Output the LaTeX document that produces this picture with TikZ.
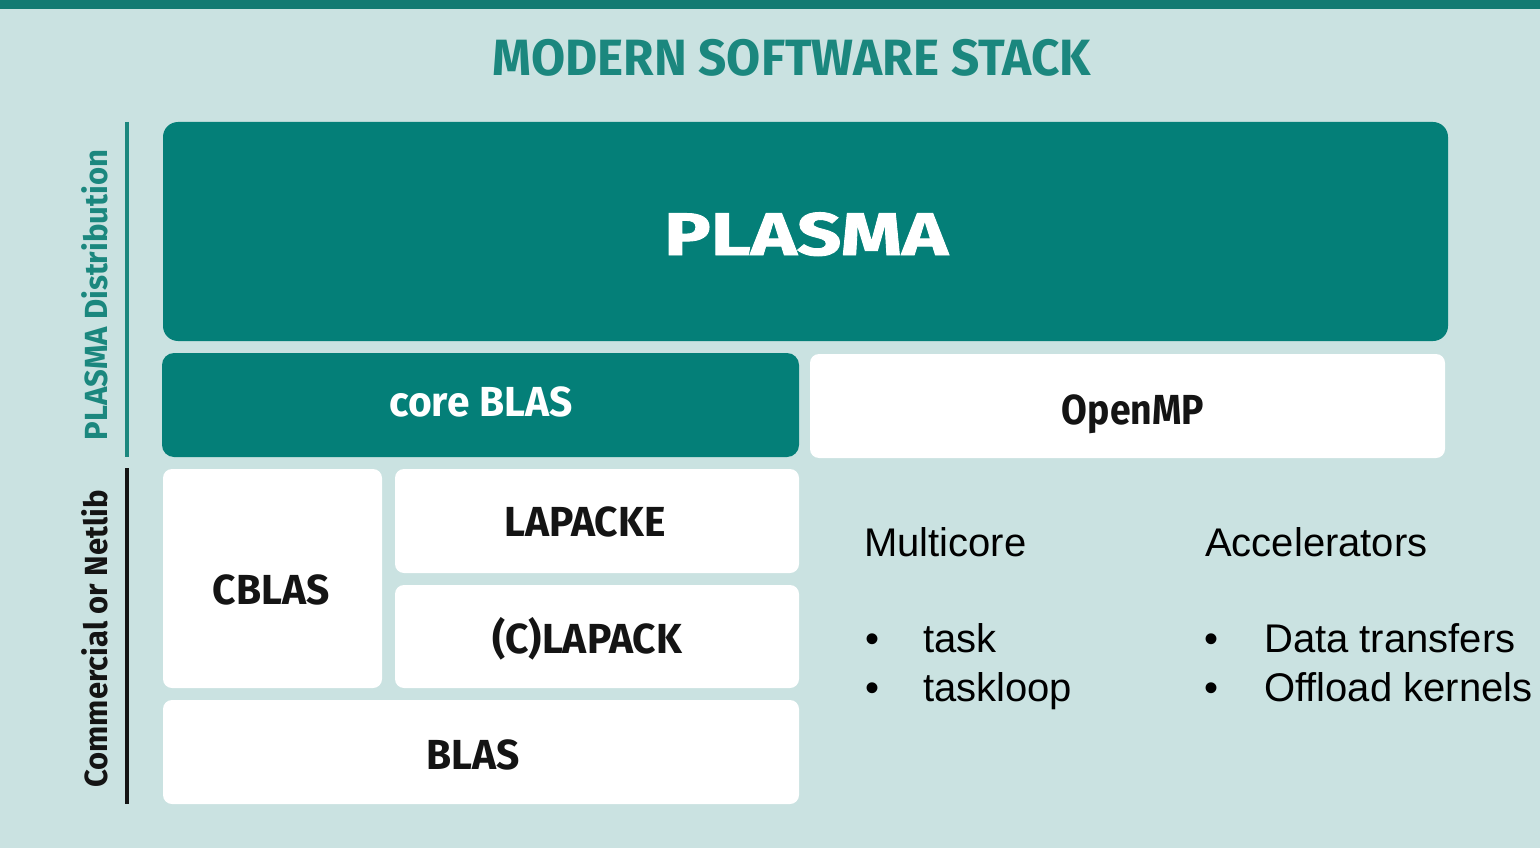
\documentclass[tikz,border=0pt]{standalone}
\usepackage{fontspec}
\usepackage{tikz}
\usetikzlibrary{positioning}
\setmainfont{Liberation Sans}
\newfontfamily\dinfont[FakeStretch=0.97]{Fira Sans}
\newfontfamily\narrowdinfont[FakeStretch=0.89]{Fira Sans}
\newfontfamily\plasmafont[FakeStretch=1.3, FakeBold=1.5]{Fira Sans}

\definecolor{bgteal}{HTML}{CAE2E1}
\definecolor{boxteal}{HTML}{047F78}
\definecolor{titleteal}{HTML}{1B877E}
\definecolor{barteal}{HTML}{137A72}
\definecolor{inkblack}{HTML}{141414}

\tikzset{
	tealbox/.style={fill=boxteal, rounded corners=15pt, inner sep=0pt},
	whitebox/.style={fill=white, rounded corners=9pt, inner sep=0pt},
	boxlabel/.style={anchor=base, inner sep=0pt,
		font=\dinfont\bfseries\fontsize{42}{42}\selectfont},
	sidelabel/.style={rotate=90, inner sep=0pt, font=\dinfont\bfseries\fontsize{32}{32}\selectfont},
	listtext/.style={anchor=base west, inner sep=0pt, text=black,
		font=\fontsize{40}{40}\selectfont}
}

\begin{document}
\begin{tikzpicture}[x=1pt, y=-1pt]
	% background and top bar
	\fill[bgteal] (0,0) rectangle (1540,848);
	\useasboundingbox (0,0) rectangle (1540,848);
	\fill[barteal] (0,0) rectangle (1540,9);

	\node[anchor=base, inner sep=0pt, text=titleteal, font=\dinfont\bfseries\fontsize{51}{51}\selectfont]
		(title) at (792,76) {MODERN SOFTWARE STACK};

	% the stack
	\node[tealbox, minimum width=1285pt, minimum height=219pt] (plasma) at (805.5,231.5) {};
	\node[tealbox, rounded corners=12pt, minimum width=637pt, minimum height=104pt] (coreblas) at (480.5,405) {};
	\node[whitebox, minimum width=635pt, minimum height=104pt] (openmp) at (1127.5,406) {};
	\node[whitebox, minimum width=219pt, minimum height=219pt] (cblas) at (272.5,578.5) {};
	\node[whitebox, minimum width=404pt, minimum height=104pt] (lapacke) at (597,521) {};
	\node[whitebox, minimum width=404pt, minimum height=103pt] (clapack) at (597,636.5) {};
	\node[whitebox, minimum width=636pt, minimum height=104pt] (blas) at (481,752) {};

	\node[boxlabel, text=white, font=\plasmafont\bfseries\fontsize{60}{60}\selectfont] (plasmalbl) at (806,255) {PLASMA};
	\node[boxlabel, text=white] (coreblaslbl) at (481,416) {core BLAS};
	\node[boxlabel, text=inkblack, font=\narrowdinfont\bfseries\fontsize{42}{42}\selectfont] (openmplbl) at (1133,424) {OpenMP};
	\node[boxlabel, text=inkblack] (cblaslbl) at (271,604) {CBLAS};
	\node[boxlabel, text=inkblack] (lapackelbl) at (585,536) {LAPACKE};
	\node[boxlabel, text=inkblack] (clapacklbl) at (587,653) {(C)LAPACK};
	\node[boxlabel, text=inkblack] (blaslbl) at (473,769) {BLAS};

	% side labels
	\node[sidelabel, text=titleteal] (dist) at (95,295) {PLASMA Distribution};
	\node[sidelabel, text=inkblack] (netlib) at (95,639) {Commercial or Netlib};
	\draw[titleteal, line width=3.5pt] (127,122) -- (127,457);
	\draw[inkblack, line width=3.5pt] (127,468) -- (127,804);

	% OpenMP features
	\node[listtext] (multi) at (864,556) {Multicore};
	\node[listtext] (b1) at (865,652) {\textbullet};
	\node[listtext] (task) at (923,652) {task};
	\node[listtext] (b2) at (865,701) {\textbullet};
	\node[listtext] (taskloop) at (923,701) {taskloop};
	\node[listtext] (accel) at (1205,556) {Accelerators};
	\node[listtext] (b3) at (1204,652) {\textbullet};
	\node[listtext] (transfer) at (1264,652) {Data transfers};
	\node[listtext] (b4) at (1204,701) {\textbullet};
	\node[listtext] (offload) at (1264,701) {Offload kernels};
\end{tikzpicture}
\end{document}
